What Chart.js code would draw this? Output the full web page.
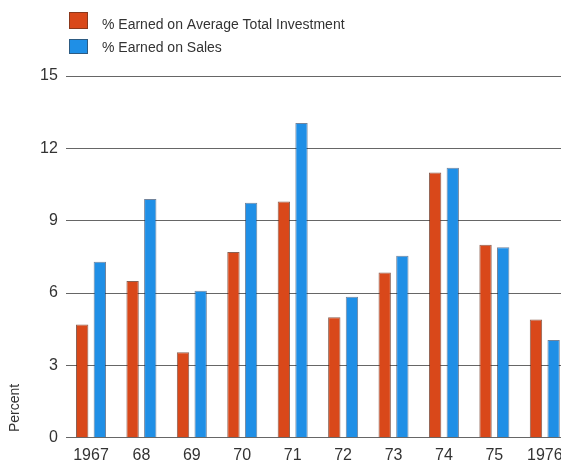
<!DOCTYPE html>
<html>
<head>
<meta charset="utf-8">
<script src="https://cdn.jsdelivr.net/npm/chart.js@4/dist/chart.umd.min.js"></script>
<style>
  html, body { margin: 0; padding: 0; background: #fff; overflow: hidden; }
  #wrap { position: absolute; left: 0; top: 0; width: 572px; height: 463px; }
</style>
</head>
<body>
<div id="wrap"><canvas id="c" width="572" height="463"></canvas></div>
<script>
// Profitability by year, in percent
const years = ['1967', '68', '69', '70', '71', '72', '73', '74', '75', '1976'];
const earnedOnInvestment = [4.7, 6.5, 3.55, 7.7, 9.8, 5.0, 6.85, 11.0, 8.0, 4.9];
const earnedOnSales = [7.3, 9.9, 6.1, 9.75, 13.05, 5.85, 7.55, 11.2, 7.9, 4.05];
const yTicks = [0, 3, 6, 9, 12, 15];

const seriesNames = ['% Earned on Average Total Investment', '% Earned on Sales'];
const RED = '#d9481a';
const BLUE = '#1f8fe6';
const FONT = '"Liberation Sans", Arial, sans-serif';

// Stacked, top-left legend drawn from the datasets
const stackedLegend = {
  id: 'stackedLegend',
  afterDraw(chart) {
    const ctx = chart.ctx;
    ctx.save();
    const rows = [{ y: 12, h: 17, ty: 25 }, { y: 39, h: 15, ty: 48 }];
    chart.data.datasets.forEach((ds, i) => {
      const r = rows[i];
      ctx.fillStyle = ds.backgroundColor;
      ctx.fillRect(69, r.y, 19, r.h);
      ctx.strokeStyle = 'rgba(60,40,30,0.5)';
      ctx.lineWidth = 1;
      ctx.strokeRect(69.5, r.y + 0.5, 18, r.h - 1);
      ctx.fillStyle = '#333';
      ctx.font = '14px ' + FONT;
      ctx.textBaseline = 'middle';
      ctx.textAlign = 'left';
      ctx.fillText(ds.label, 102, r.ty);
    });
    // vertical axis caption
    ctx.translate(15, 408);
    ctx.rotate(-Math.PI / 2);
    ctx.font = '14px ' + FONT;
    ctx.fillStyle = '#333';
    ctx.textAlign = 'center';
    ctx.textBaseline = 'middle';
    ctx.fillText('Percent', 0, 0);
    ctx.restore();
  }
};

new Chart(document.getElementById('c'), {
  type: 'bar',
  data: {
    labels: years,
    datasets: [
      { label: seriesNames[0], data: earnedOnInvestment, backgroundColor: RED,
        borderColor: 'rgba(90,30,10,0.7)', borderWidth: 1 },
      { label: seriesNames[1], data: earnedOnSales, backgroundColor: BLUE,
        borderColor: 'rgba(20,50,90,0.6)', borderWidth: 1 }
    ]
  },
  options: {
    responsive: false,
    animation: false,
    events: [],
    layout: { padding: { left: 32, top: 76, right: 2, bottom: -10 } },
    datasets: { bar: { categoryPercentage: 0.70, barPercentage: 0.70 } },
    plugins: {
      legend: { display: false },
      tooltip: { enabled: false }
    },
    scales: {
      x: {
        grid: { display: false, drawTicks: false },
        border: { display: false },
        ticks: { color: '#333', font: { family: FONT, size: 16 }, padding: 8, maxRotation: 0 }
      },
      y: {
        min: 0, max: 15,
        afterBuildTicks(scale) { scale.ticks = yTicks.map(v => ({ value: v })); },
        grid: { color: '#666', lineWidth: 1, drawTicks: false },
        border: { display: false },
        ticks: { color: '#333', font: { family: FONT, size: 16 }, padding: 8 }
      }
    }
  },
  plugins: [stackedLegend]
});
</script>
</body>
</html>
